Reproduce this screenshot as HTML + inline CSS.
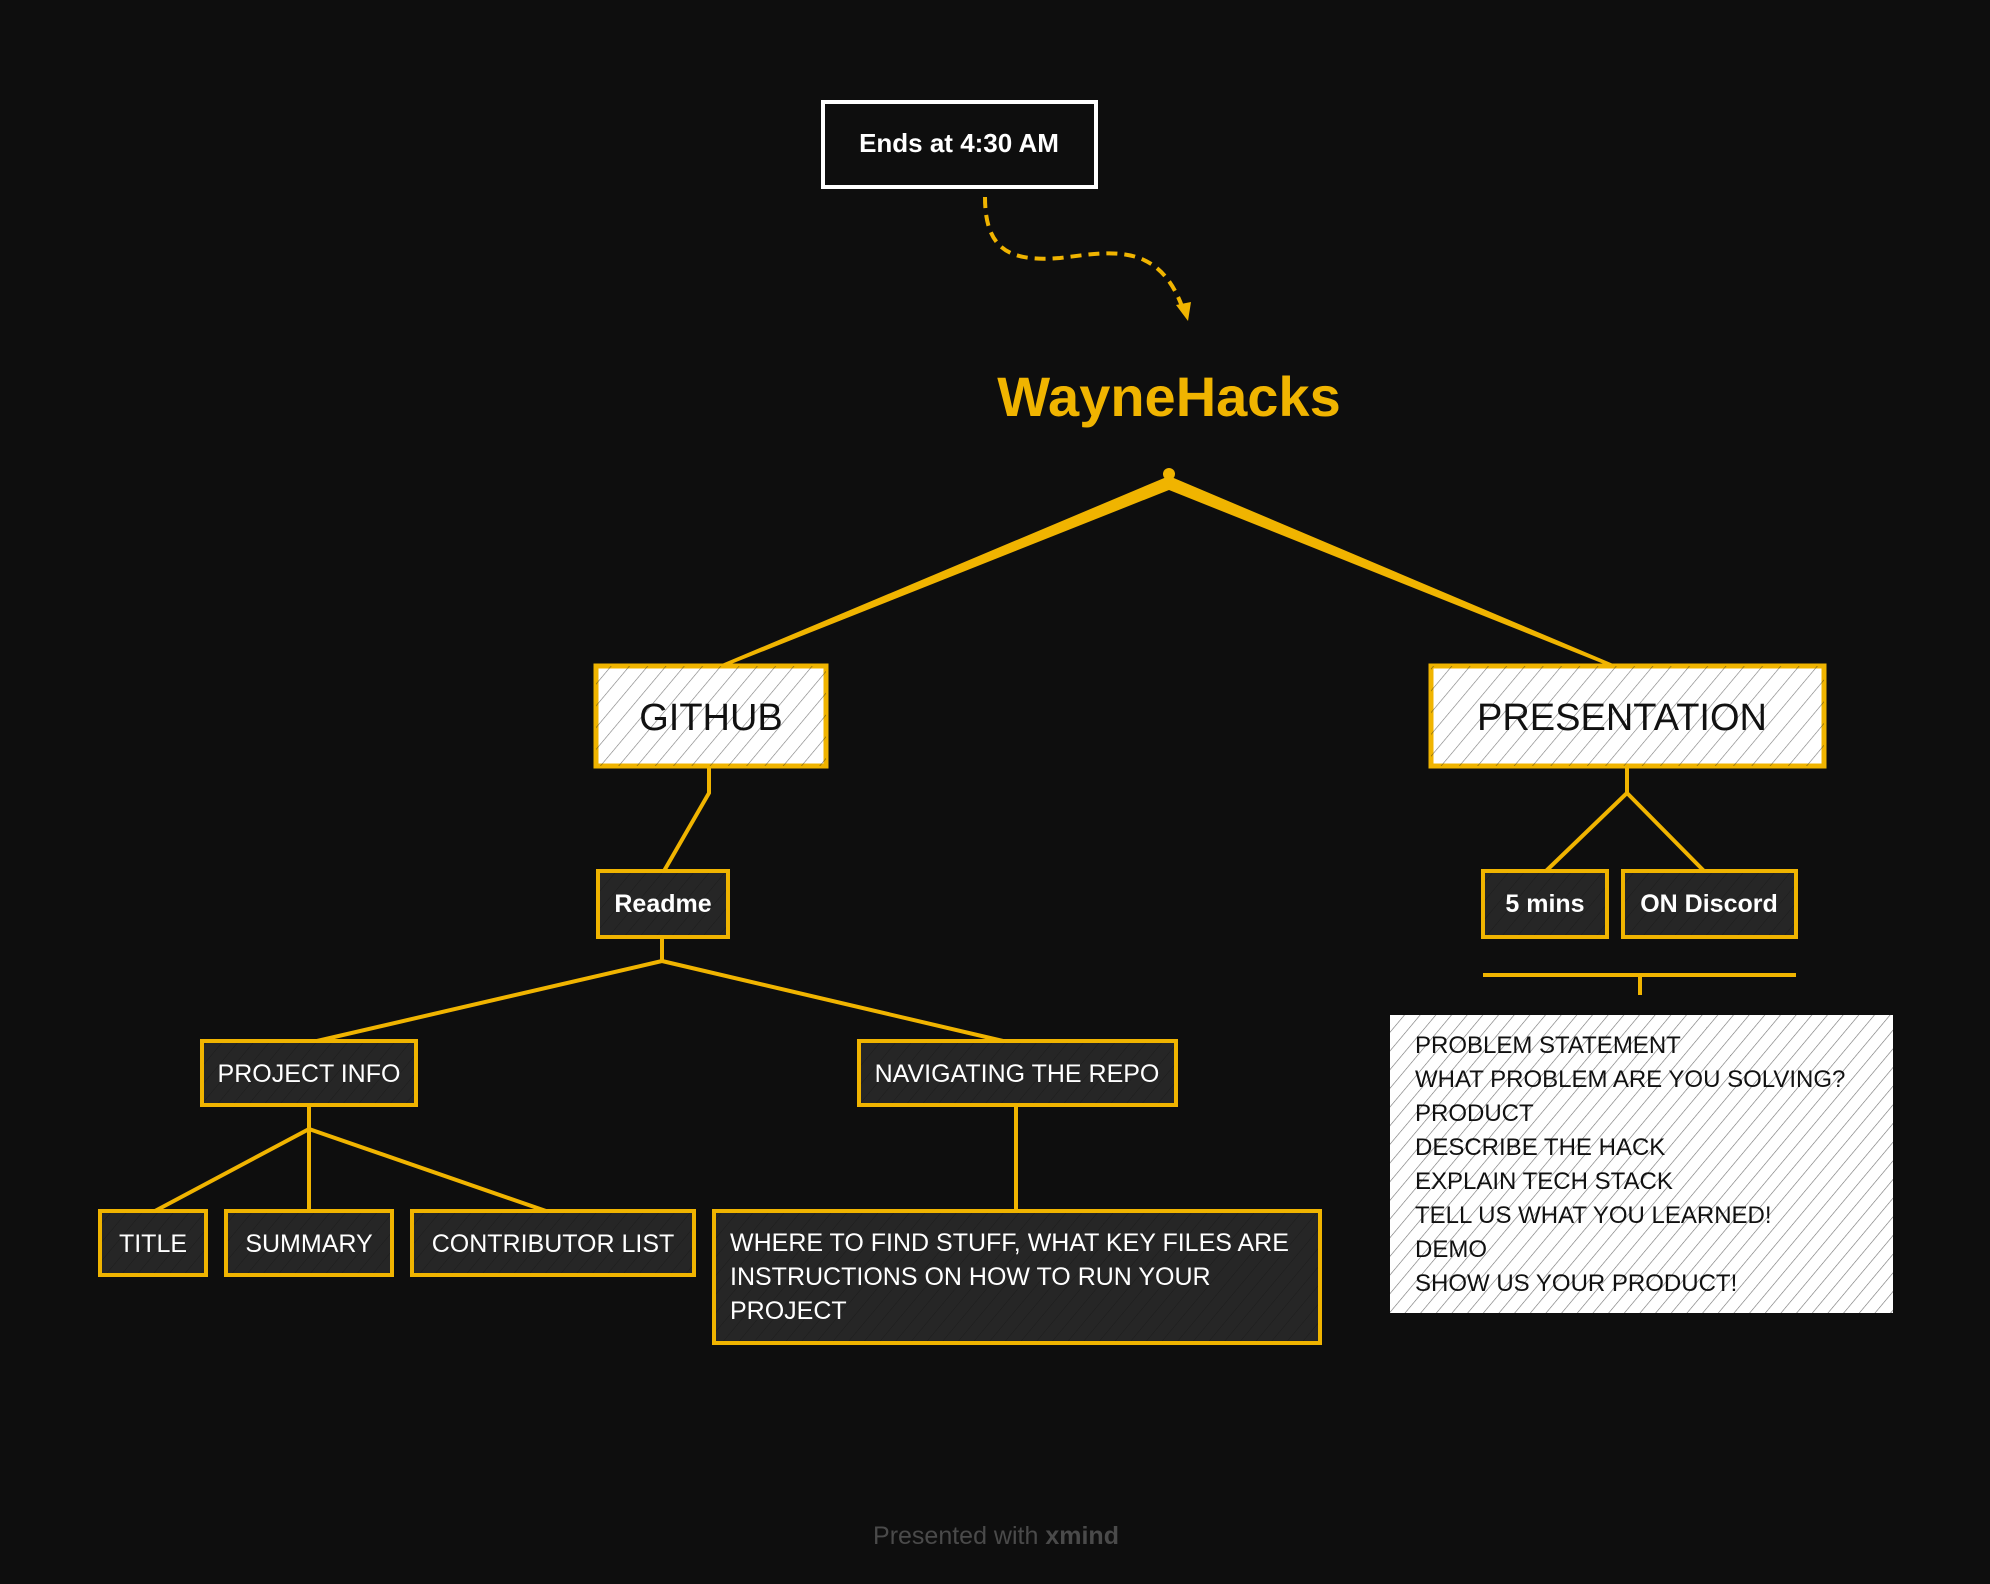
<!DOCTYPE html>
<html><head><meta charset="utf-8"><style>
html,body{margin:0;padding:0;background:#0e0e0e;}
svg{display:block;}
text{font-family:"Liberation Sans",sans-serif;}
</style></head><body>
<svg width="1990" height="1584" viewBox="0 0 1990 1584" xmlns="http://www.w3.org/2000/svg">
<defs>
<pattern id="h" width="14" height="14" patternUnits="userSpaceOnUse" patternTransform="rotate(40)">
<line x1="0" y1="0" x2="0" y2="14" stroke="#222" stroke-width="1.2" opacity="0.6"/>
</pattern>
<pattern id="hd" width="12" height="12" patternUnits="userSpaceOnUse" patternTransform="rotate(40)">
<line x1="0" y1="0" x2="0" y2="12" stroke="#111" stroke-width="1.2" opacity="0.6"/>
</pattern>
<pattern id="hk" width="12" height="12" patternUnits="userSpaceOnUse" patternTransform="rotate(40)">
<line x1="0" y1="0" x2="0" y2="12" stroke="#111" stroke-width="1" opacity="0.5"/>
</pattern>
</defs>
<rect width="1990" height="1584" fill="#0e0e0e"/>

<rect x="823" y="102" width="273" height="85" fill="#0e0e0e" stroke="#fff" stroke-width="4"/>
<text x="959" y="152" fill="#fff" font-size="26" font-weight="bold" text-anchor="middle">Ends at 4:30 AM</text>
<path d="M985 197 C985 250 1010 262 1060 258 C1110 252 1160 240 1184 312" fill="none" stroke="#f0b400" stroke-width="4" stroke-dasharray="11 7"/>
<path d="M1176 305 L1188 321 L1191 302 Z" fill="#f0b400"/>

<text x="1169" y="416" fill="#f0b400" font-size="56" font-weight="bold" text-anchor="middle">WayneHacks</text>

<circle cx="1169" cy="474" r="6" fill="#f0b400"/>
<path d="M1169 476 L717 666 L726 666 L1169 490 Z" fill="#f0b400"/>
<path d="M1169 476 L1618 666 L1609 666 L1169 490 Z" fill="#f0b400"/>

<rect x="596" y="666" width="230" height="100" fill="#fff" stroke="#f0b400" stroke-width="5"/>
<rect x="596" y="666" width="230" height="100" fill="url(#h)"/>
<text x="711" y="730" fill="#111" font-size="38" text-anchor="middle">GITHUB</text>
<rect x="1431" y="666" width="393" height="100" fill="#fff" stroke="#f0b400" stroke-width="5"/>
<rect x="1431" y="666" width="393" height="100" fill="url(#h)"/>
<text x="1622" y="730" fill="#111" font-size="38" text-anchor="middle">PRESENTATION</text>

<g stroke="#f0b400" stroke-width="4" fill="none">
<path d="M709 768 L709 793 L664 871"/>
<path d="M662 937 L662 961 L317 1041 M662 961 L1003 1041"/>
<path d="M309 1105 L309 1129 L155 1211 M309 1129 L309 1211 M309 1129 L546 1211"/>
<path d="M1016 1105 L1016 1211"/>
<path d="M1627 768 L1627 793 L1546 871 M1627 793 L1704 871"/>
<path d="M1483 975 L1796 975 M1640 975 L1640 995"/>
</g>

<g stroke="#f0b400" stroke-width="4" fill="#262626">
<rect x="598" y="871" width="130" height="66"/>
<rect x="202" y="1041" width="214" height="64"/>
<rect x="859" y="1041" width="317" height="64"/>
<rect x="100" y="1211" width="106" height="64"/>
<rect x="226" y="1211" width="166" height="64"/>
<rect x="412" y="1211" width="282" height="64"/>
<rect x="714" y="1211" width="606" height="132"/>
<rect x="1483" y="871" width="124" height="66"/>
<rect x="1623" y="871" width="173" height="66"/>
</g>
<g fill="url(#hk)">
<rect x="600" y="873" width="126" height="62"/>
<rect x="204" y="1043" width="210" height="60"/>
<rect x="861" y="1043" width="313" height="60"/>
<rect x="102" y="1213" width="102" height="60"/>
<rect x="228" y="1213" width="162" height="60"/>
<rect x="414" y="1213" width="278" height="60"/>
<rect x="716" y="1213" width="602" height="128"/>
<rect x="1485" y="873" width="120" height="62"/>
<rect x="1625" y="873" width="169" height="62"/>
</g>
<g fill="#fff" font-size="25">
<text x="663" y="912" text-anchor="middle" font-weight="bold">Readme</text>
<text x="309" y="1082" text-anchor="middle">PROJECT INFO</text>
<text x="1017" y="1082" text-anchor="middle">NAVIGATING THE REPO</text>
<text x="153" y="1252" text-anchor="middle">TITLE</text>
<text x="309" y="1252" text-anchor="middle">SUMMARY</text>
<text x="553" y="1252" text-anchor="middle">CONTRIBUTOR LIST</text>
<text x="730" y="1251">WHERE TO FIND STUFF, WHAT KEY FILES ARE</text>
<text x="730" y="1285">INSTRUCTIONS ON HOW TO RUN YOUR</text>
<text x="730" y="1319">PROJECT</text>
<text x="1545" y="912" text-anchor="middle" font-weight="bold">5  mins</text>
<text x="1709" y="912" text-anchor="middle" font-weight="bold">ON Discord</text>
</g>

<rect x="1390" y="1015" width="503" height="298" fill="#fff"/>
<rect x="1390" y="1015" width="503" height="298" fill="url(#hd)"/>
<g fill="#111" font-size="24">
<text x="1415" y="1053">PROBLEM STATEMENT</text>
<text x="1415" y="1087">WHAT PROBLEM ARE YOU SOLVING?</text>
<text x="1415" y="1121">PRODUCT</text>
<text x="1415" y="1155">DESCRIBE THE HACK</text>
<text x="1415" y="1189">EXPLAIN TECH STACK</text>
<text x="1415" y="1223">TELL US WHAT YOU LEARNED!</text>
<text x="1415" y="1257">DEMO</text>
<text x="1415" y="1291">SHOW US YOUR PRODUCT!</text>
</g>

<text x="996" y="1544" fill="#4a4a4a" font-size="25" text-anchor="middle">Presented with <tspan font-weight="bold">xmind</tspan></text>
</svg>
</body></html>
